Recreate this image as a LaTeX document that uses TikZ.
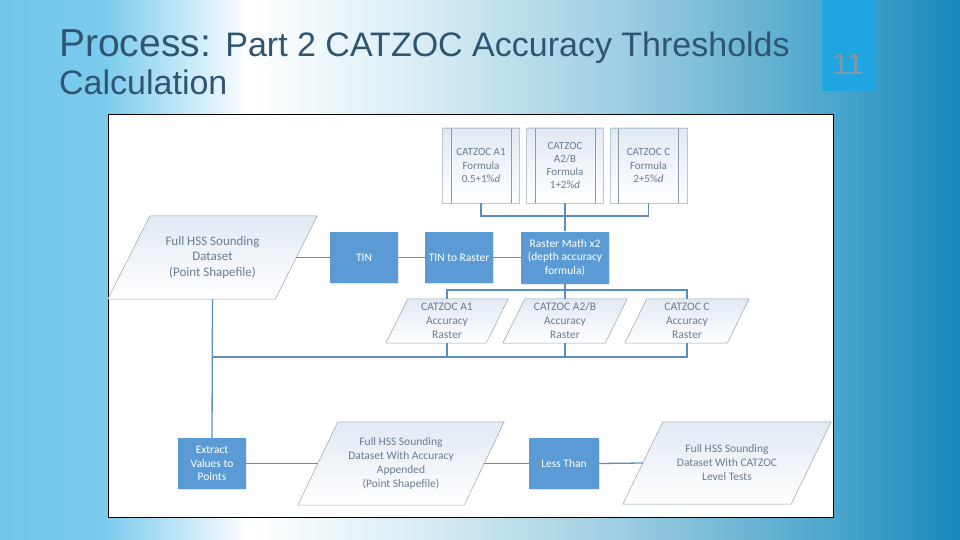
\documentclass[tikz,border=0pt]{standalone}
\usepackage{fontspec}
\setmainfont{Carlito}
\newfontfamily\titlefont{Liberation Sans}
\usetikzlibrary{calc,shadows}
\definecolor{procblue}{HTML}{5B9BD5}
\definecolor{linkblue}{HTML}{5B8FC0}
\definecolor{paratext}{HTML}{6A7C90}
\definecolor{paraedge}{HTML}{9AA6B2}
\definecolor{paratop}{HTML}{E1E9F3}
\definecolor{formedge}{HTML}{BAC7D5}
\definecolor{innerline}{HTML}{8E9AA6}
\definecolor{titlecol}{HTML}{2F5573}
\definecolor{numbox}{HTML}{1FA5DF}
\definecolor{numtext}{HTML}{8797A3}
\definecolor{bgA}{HTML}{72C6EA}
\definecolor{bgB}{HTML}{7BCBEE}
\definecolor{bgC}{HTML}{D6EBF3}
\definecolor{bgD}{HTML}{9CCDE1}
\definecolor{bgE}{HTML}{4AA5CC}
\definecolor{bgF}{HTML}{1888BB}
\pgfdeclarehorizontalshading{slidebg}{100bp}{color(0bp)=(bgA); color(25bp)=(bgA); color(30.5bp)=(bgB); color(38bp)=(white); color(47.5bp)=(bgC); color(57.5bp)=(bgD); color(68.5bp)=(bgE); color(75bp)=(bgF); color(100bp)=(bgF)}
\pgfdeclarelayer{back}
\pgfdeclarelayer{mid}
\pgfsetlayers{back,mid,main}
\tikzset{
  proc/.style={rectangle, fill=procblue, text=white, inner sep=1pt, align=center,
    minimum width=68pt, minimum height=51pt,
    font=\fontsize{11.5}{13.5}\selectfont,
    drop shadow={opacity=0.2, shadow xshift=1pt, shadow yshift=-1pt}},
  paranode/.style={rectangle, inner sep=0pt, align=center, text=paratext,
    font=\fontsize{11.5}{14}\selectfont},
  parashape/.style={draw=paraedge, line width=0.5pt, top color=paratop, bottom color=white},
  formbox/.style={rectangle, draw=formedge, line width=0.6pt, top color=paratop, bottom color=white,
    minimum width=77pt, minimum height=75pt, inner sep=0pt, align=center, text=paratext,
    font=\fontsize{11}{13.2}\selectfont,
    path picture={
      \draw[innerline, line width=0.5pt] ([xshift=8.5pt]path picture bounding box.north west) -- ([xshift=8.5pt]path picture bounding box.south west);
      \draw[innerline, line width=0.5pt] ([xshift=-8.5pt]path picture bounding box.north east) -- ([xshift=-8.5pt]path picture bounding box.south east);}},
  link/.style={draw=linkblue, line width=1.3pt},
}
\newcommand\paraback[2]{%
  \begin{pgfonlayer}{mid}
    \path[parashape] ($(#1.south west)+(-#2,0)$) -- ($(#1.north west)+(#2,0)$) -- ($(#1.north east)+(#2,0)$) -- ($(#1.south east)+(-#2,0)$) -- cycle;
  \end{pgfonlayer}}
\begin{document}
\begin{tikzpicture}[x=1pt, y=-1pt]
\useasboundingbox (0,0) rectangle (960,540);
\begin{pgfonlayer}{back}
  \fill[shading=slidebg] (0,0) rectangle (960,540);
  \fill[numbox] (822,0) rectangle (876,91);
  \filldraw[fill=white, draw=black, line width=0.9pt] (108,114) rectangle (833,517);
\end{pgfonlayer}
% title
\node[anchor=base west, inner sep=0pt, text=titlecol, font=\titlefont] (title) at (59,57)
  {\fontsize{39}{39}\selectfont Process: \fontsize{34}{34}\selectfont Part 2 CATZOC Accuracy Thresholds};
\node[anchor=base west, inner sep=0pt, text=titlecol, font=\titlefont\fontsize{34}{34}\selectfont] (title2) at (59,95) {Calculation};
\node[text=numtext, font=\titlefont\fontsize{30}{30}\selectfont, inner sep=0pt] (num) at (848,64) {11};
% formula boxes
\node[formbox] (fa1) at (481,165.5) {CATZOC A1\\Formula\\0.5+1\%\textit{d}};
\node[formbox] (fa2) at (565,165.5) {CATZOC\\A2/B\\Formula\\1+2\%\textit{d}};
\node[formbox] (fc) at (648.5,165.5) {CATZOC C\\Formula\\2+5\%\textit{d}};
% row 2
\node[paranode, minimum width=167pt, minimum height=83pt, font=\fontsize{13}{15.5}\selectfont] (full) at (212.5,257.5) {Full HSS Sounding\\Dataset\\(Point Shapefile)};
\paraback{full}{21}
\node[proc] (tin) at (364,257.5) {TIN};
\node[proc] (tinr) at (459,257.5) {TIN to Raster};
\node[proc, minimum width=88pt, minimum height=52pt] (rmath) at (565,257.5) {Raster Math x2\\(depth accuracy\\formula)};
% row 3
\node[paranode, minimum width=100pt, minimum height=44pt] (ra1) at (447,321) {CATZOC A1\\Accuracy\\Raster};
\paraback{ra1}{11}
\node[paranode, minimum width=102pt, minimum height=44pt] (ra2) at (565,321) {CATZOC A2/B\\Accuracy\\Raster};
\paraback{ra2}{11}
\node[paranode, minimum width=102pt, minimum height=44pt] (rc) at (687,321) {CATZOC C\\Accuracy\\Raster};
\paraback{rc}{11}
% row 4
\node[proc] (extract) at (212,463.5) {Extract\\Values to\\Points};
\node[paranode, minimum width=166pt, minimum height=83pt] (app) at (401,463.5) {Full HSS Sounding\\Dataset With Accuracy\\Appended\\(Point Shapefile)};
\paraback{app}{20}
\node[proc, minimum width=70pt] (less) at (564,463.5) {Less Than};
\node[paranode, minimum width=168pt, minimum height=82pt] (final) at (727,463) {Full HSS Sounding\\Dataset With CATZOC\\Level Tests};
\paraback{final}{20}
% junction coordinates
\coordinate (jf) at (565,216);
\coordinate (jr) at (565,290);
\coordinate (jb) at (565,357);
% connectors
\draw[link] (fa1.south) -- (fa1.south |- jf) -- (fc.south |- jf) -- (fc.south);
\draw[link] (fa2.south) -- (rmath.north);
\draw[link] (full.east) -- (tin.west);
\draw[link] (tin.east) -- (tinr.west);
\draw[link] (tinr.east) -- (rmath.west);
\draw[link] (rmath.south) -- (jr);
\draw[link] (ra1.north) -- (ra1.north |- jr) -- (rc.north |- jr) -- (rc.north);
\draw[link] (jr) -- (ra2.north);
\draw[link] (ra1.south) -- (ra1.south |- jb);
\draw[link] (ra2.south) -- (jb);
\draw[link] (rc.south) -- (rc.south |- jb) -- (full.south |- jb);
\draw[link] (full.south) -- (extract.north);
\draw[link] (extract.east) -- (app.west);
\draw[link] (app.east) -- (less.west);
\draw[link] (less.east) -- (final.west);
\end{tikzpicture}
\end{document}
